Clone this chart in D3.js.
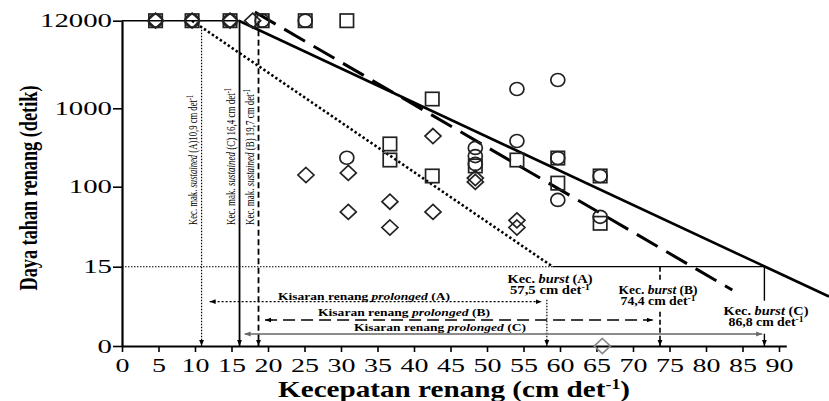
<!DOCTYPE html>
<html><head><meta charset="utf-8">
<script src="https://cdn.jsdelivr.net/npm/d3@7"></script>
<style>body{margin:0;background:#fff}svg{display:block}</style>
</head><body>
<svg id="c" width="829" height="401"></svg>
<script>
// ---------- data ----------
const xTicks = [0,5,10,15,20,25,30,35,40,45,50,55,60,65,70,75,80,85,90];
const yTickValues = [0,15,100,1000,12000];
const yTickLabels = ["0","15","100","1000","12000"];

const circlePts = [[4.6,12000],[9.6,12000],[14.8,12000],[19.2,12000],[25.1,12000],
  [30.8,234],[48.4,312],[48.4,246],[48.4,195],[54.1,1729],[54.1,383],
  [59.7,2233],[59.7,232],[59.7,73],[65.5,137],[65.5,49]];
const squarePts = [[4.6,12000],[9.6,12000],[14.8,12000],[19.2,12000],[25.1,12000],[30.8,12000],
  [36.7,351],[36.7,219],[42.5,1302],[42.5,137],[48.4,184],[54.1,219],
  [59.7,232],[59.7,111],[65.5,137],[65.5,42]];
const diamondPts = [[4.6,12000],[9.6,12000],[14.8,12000],[17.9,12000],
  [25.2,141],[31.0,150],[31.0,55],[36.7,70],[36.7,38],[42.6,443],[42.6,55],
  [48.4,129],[48.4,115],[54.1,45],[54.1,38]];
const diamondGrayPts = [[65.8,0]];

// regression lines (start, end)
const lineA = [[9.6,12000],[59.0,15]];      // dotted
const lineB = [[18.2,15350],[83.6,10.6]];   // dashed
const lineC = [[16.0,12000],[88.1,15]];     // solid (extended)
const plateau = [[0,12000],[16.0,12000]];
const level15 = 15;

const sustainedX = {A:10.9, C:16.1, B:18.7};
const sustainedLabel = {A:"(A)10,9", C:"(C) 16,4", B:"(B) 19,7"};
const burstX = {A:58.2, B:73.7, C:88.0};
const burstLabel = {A:"57,5", B:"74,4", C:"86,8"};
const rangeX = {A:[12.0,57.5], B:[19.6,72.7], C:[16.8,87.7]};

// ---------- scales ----------
const svg = d3.select("#c");
const x = d3.scaleLinear().domain([0,91]).range([122,786.3]);
const yT = v => v <= 15 ? v/15 : v <= 100 ? 1 + Math.log10(v/15)/Math.log10(100/15) : 2 + Math.log10(v/100);
const yLin = d3.scaleLinear().domain(yTickValues.map(yT)).range([346,266.7,186.7,108.3,20.7]);
const y = v => yLin(yT(v));

// arrow markers
const defs = svg.append("defs");
function mk(id, color){
  defs.append("marker").attr("id",id).attr("viewBox","0 0 10 10").attr("refX",10).attr("refY",5)
    .attr("markerWidth",6).attr("markerHeight",6).attr("markerUnits","userSpaceOnUse")
    .attr("orient","auto-start-reverse")
    .append("path").attr("d","M0,1L10,5L0,9Z").attr("fill",color);
}
mk("ab","#000"); mk("ag","#666");

// ---------- axes ----------
const serif = "'Liberation Serif','Times New Roman',serif";
const gy = svg.append("g").attr("transform","translate(122,0)")
  .call(d3.axisLeft(yLin).tickValues(yTickValues.map(yT)).tickFormat((d,i)=>yTickLabels[i])
    .tickSize(9).tickSizeOuter(0).tickPadding(1));
gy.select(".domain").attr("stroke-width",2.2);
gy.selectAll(".tick line").attr("stroke-width",1.6);
gy.selectAll("text").attr("font-family",serif).attr("font-size",19).attr("fill","#000")
  .attr("textLength",(d,i)=>yTickLabels[i].length*14.4).attr("lengthAdjust","spacingAndGlyphs");

const gx = svg.append("g").attr("transform","translate(0,346)")
  .call(d3.axisBottom(x).tickValues(xTicks).tickSize(6).tickSizeOuter(0).tickPadding(7));
gx.select(".domain").attr("stroke-width",2.2);
gx.selectAll(".tick line").attr("stroke-width",1.6);
gx.selectAll("text").attr("font-family",serif).attr("font-size",19).attr("fill","#000")
  .attr("textLength",d=>String(d).length*14).attr("lengthAdjust","spacingAndGlyphs");

// axis titles
svg.append("text").attr("transform","translate(37,188) rotate(-90)").attr("text-anchor","middle")
  .attr("font-family",serif).attr("font-weight","bold").attr("font-size",25)
  .attr("textLength",205).attr("lengthAdjust","spacingAndGlyphs").text("Daya tahan renang (detik)");
const xt = svg.append("text").attr("x",278).attr("y",397)
  .attr("font-family",serif).attr("font-weight","bold").attr("font-size",23)
  .attr("textLength",352).attr("lengthAdjust","spacingAndGlyphs");
xt.append("tspan").text("Kecepatan renang (cm det");
xt.append("tspan").attr("dy",-8).attr("font-size",14).text("-1");
xt.append("tspan").attr("dy",8).text(")");

// ---------- lines ----------
const seg = (x1,y1,x2,y2,opt)=>{
  const l = svg.append("line").attr("x1",x1).attr("y1",y1).attr("x2",x2).attr("y2",y2)
    .attr("stroke",opt.c||"#000").attr("stroke-width",opt.w||1.5).attr("fill","none");
  if(opt.d) l.attr("stroke-dasharray",opt.d);
  if(opt.end) l.attr("marker-end","url(#"+opt.end+")");
  if(opt.start) l.attr("marker-start","url(#"+opt.start+")");
  return l;
};
// plateau at 12000
seg(x(plateau[0][0]),y(plateau[0][1]),x(plateau[1][0]),y(plateau[1][1]),{w:1.6});
// level 15 line: dotted up to line A end, solid to burst C
seg(x(0),y(level15),x(lineA[1][0]),y(level15),{w:1.1,d:"1.5,1.5"});
seg(x(lineA[1][0]),y(level15),x(burstX.C),y(level15),{w:1.3});

// regression lines
seg(x(lineA[0][0]),y(lineA[0][1]),x(lineA[1][0]),y(lineA[1][1]),{w:2.6,d:"2.4,2.4"});
seg(x(lineB[0][0]),y(lineB[0][1]),x(lineB[1][0]),y(lineB[1][1]),{w:3,d:"24,10"});
{
  const p1=[x(lineC[0][0]),y(lineC[0][1])], p2=[x(lineC[1][0]),y(lineC[1][1])];
  const xe = 829, k=(xe-p1[0])/(p2[0]-p1[0]);
  seg(p1[0],p1[1],xe,p1[1]+(p2[1]-p1[1])*k,{w:2.6});
}

// sustained verticals
const y0 = y(0), yTop = y(12000);
seg(x(sustainedX.A),yTop+6,x(sustainedX.A),y0,{w:1.2,d:"1.5,1.5",end:"ab"});
seg(x(sustainedX.C),yTop,x(sustainedX.C),y0,{w:1.8,end:"ab"});
seg(x(sustainedX.B),yTop,x(sustainedX.B),y0,{w:1.8,d:"6,3.5",end:"ab"});

// burst verticals
const y15 = y(level15);
seg(x(burstX.A),y15+33,x(burstX.A),y0,{w:1.2,d:"1.5,1.5",end:"ab"});
seg(x(burstX.B),y15,x(burstX.B),y15+15,{w:1.6,d:"5,3"});
seg(x(burstX.B),y15+45,x(burstX.B),y0,{w:1.6,d:"5,3",end:"ab"});
seg(x(burstX.C),y15,x(burstX.C),y15+34,{w:1.4});
seg(x(burstX.C),y15+67,x(burstX.C),y0,{w:1.4,end:"ab"});

// prolonged range arrows
seg(x(rangeX.A[0]),y0-44.3,x(rangeX.A[1]),y0-44.3,{w:1.2,d:"2,2",start:"ab",end:"ab"});
seg(x(rangeX.B[0]),y0-26,x(rangeX.B[1]),y0-26,{w:1.5,d:"12,6",start:"ab",end:"ab"});
seg(x(rangeX.C[0]),y0-12,x(rangeX.C[1]),y0-12,{w:1.6,c:"#666",start:"ag",end:"ag"});

// ---------- markers ----------
const mkG = svg.append("g").attr("fill","none").attr("stroke","#222").attr("stroke-width",1.7);
mkG.selectAll(".sq").data(squarePts).join("rect").attr("class","sq")
  .attr("x",d=>x(d[0])-6.7).attr("y",d=>y(d[1])-6.7).attr("width",13.4).attr("height",13.4);
mkG.selectAll(".ci").data(circlePts).join("ellipse").attr("class","ci")
  .attr("cx",d=>x(d[0])).attr("cy",d=>y(d[1])).attr("rx",7).attr("ry",6.5);
mkG.selectAll(".di").data(diamondPts).join("path").attr("class","di")
  .attr("d",d=>{const cx=x(d[0]),cy=y(d[1]);return `M${cx},${cy-7.5}L${cx+8},${cy}L${cx},${cy+7.5}L${cx-8},${cy}Z`;});
mkG.selectAll(".dg").data(diamondGrayPts).join("path").attr("class","dg").attr("stroke","#888")
  .attr("d",d=>{const cx=x(d[0]),cy=y(d[1]);return `M${cx},${cy-7.5}L${cx+8},${cy}L${cx},${cy+7.5}L${cx-8},${cy}Z`;});

// ---------- texts ----------
function rich(sel, parts){
  parts.forEach(p=>{
    const t = sel.append("tspan").text(p.t);
    if(p.i) t.attr("font-style","italic");
    if(p.sup){ t.attr("dy",-4).attr("font-size","0.7em"); }
  });
  return sel;
}
// sustained labels (rotated)
const sustPos = {A:[197,225,130],C:[235,225,137],B:[254,225,136]};
["A","C","B"].forEach(k=>{
  const p = sustPos[k];
  const t = svg.append("text").attr("transform",`translate(${p[0]},${p[1]}) rotate(-90)`)
    .attr("font-family",serif).attr("font-size",13.5).attr("textLength",p[2]).attr("lengthAdjust","spacingAndGlyphs");
  rich(t,[{t:"Kec. mak. "},{t:"sustained",i:1},{t:" "+sustainedLabel[k]+" cm det"},{t:"-1",sup:1}]);
});

// prolonged labels
const rngLab = [{k:"A",cx:364,by:y0-46.5},{k:"B",cx:404,by:y0-30},{k:"C",cx:440,by:y0-15}];
rngLab.forEach(r=>{
  const t = svg.append("text").attr("x",r.cx).attr("y",r.by).attr("text-anchor","middle")
    .attr("font-family",serif).attr("font-weight","bold").attr("font-size",11)
    .attr("textLength",172).attr("lengthAdjust","spacingAndGlyphs");
  rich(t,[{t:"Kisaran renang "},{t:"prolonged",i:1},{t:"  ("+r.k+")"}]);
});

// burst labels
const bLab = [{k:"A",cx:550,by:y15+16,w1:85,w2:80},{k:"B",cx:658,by:y15+27,w1:79,w2:75},{k:"C",cx:766,by:y15+48,w1:85,w2:75}];
bLab.forEach(b=>{
  const t1 = svg.append("text").attr("x",b.cx).attr("y",b.by).attr("text-anchor","middle")
    .attr("font-family",serif).attr("font-weight","bold").attr("font-size",11.5)
    .attr("textLength",b.w1).attr("lengthAdjust","spacingAndGlyphs");
  rich(t1,[{t:"Kec. "},{t:"burst",i:1},{t:"  ("+b.k+")"}]);
  const t2 = svg.append("text").attr("x",b.cx).attr("y",b.by+11.5).attr("text-anchor","middle")
    .attr("font-family",serif).attr("font-weight","bold").attr("font-size",11.5)
    .attr("textLength",b.w2).attr("lengthAdjust","spacingAndGlyphs");
  rich(t2,[{t:burstLabel[b.k]+" cm  det"},{t:"-1",sup:1}]);
});
</script>
</body></html>
